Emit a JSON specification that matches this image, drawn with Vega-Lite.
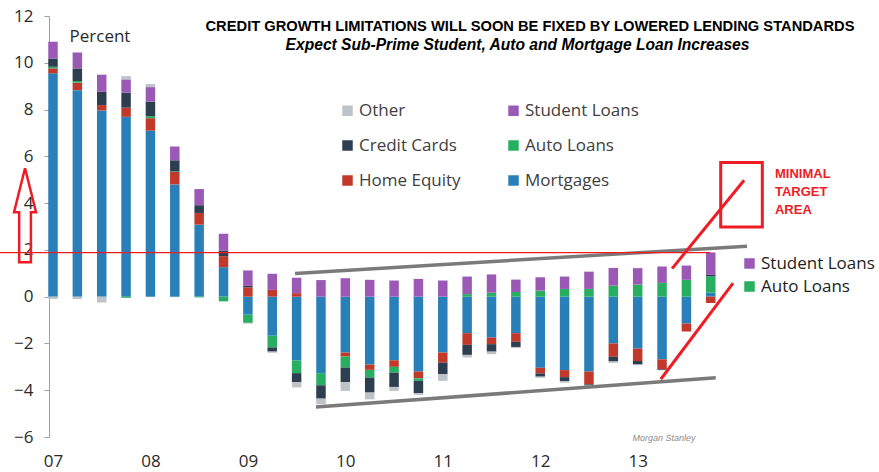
{
  "$schema": "https://vega.github.io/schema/vega-lite/v6.json",
  "width": 668,
  "height": 421,
  "autosize": {"type": "none"},
  "padding": {"left": 49, "top": 16, "right": 162, "bottom": 35},
  "background": "white",
  "title": {
    "text": "CREDIT GROWTH LIMITATIONS WILL SOON BE FIXED BY LOWERED LENDING STANDARDS",
    "anchor": "middle",
    "dx": 147,
    "offset": -27,
    "font": "Liberation Sans",
    "fontSize": 14.7,
    "fontWeight": "bold",
    "color": "#000000"
  },
  "config": {
    "view": {"stroke": null},
    "font": "Open Sans"
  },
  "datasets": {
    "quarters": [
      {"t": 2007.00, "Mortgages": 9.55, "Home Equity": 0.21, "Auto Loans": 0.07, "Credit Cards": 0.35, "Student Loans": 0.72, "Other": -0.10},
      {"t": 2007.25, "Mortgages": 8.83, "Home Equity": 0.32, "Auto Loans": 0.07, "Credit Cards": 0.54, "Student Loans": 0.68, "Other": -0.10},
      {"t": 2007.50, "Mortgages": 7.96, "Home Equity": 0.23, "Auto Loans": 0.00, "Credit Cards": 0.57, "Student Loans": 0.73, "Other": -0.25},
      {"t": 2007.75, "Mortgages": 7.69, "Home Equity": 0.39, "Auto Loans": -0.05, "Credit Cards": 0.64, "Student Loans": 0.57, "Other": 0.14},
      {"t": 2008.00, "Mortgages": 7.10, "Home Equity": 0.53, "Auto Loans": 0.09, "Credit Cards": 0.62, "Student Loans": 0.62, "Other": 0.13},
      {"t": 2008.25, "Mortgages": 4.80, "Home Equity": 0.53, "Auto Loans": 0.03, "Credit Cards": 0.47, "Student Loans": 0.59, "Other": 0},
      {"t": 2008.50, "Mortgages": 3.08, "Home Equity": 0.50, "Auto Loans": -0.03, "Credit Cards": 0.33, "Student Loans": 0.69, "Other": 0},
      {"t": 2008.75, "Mortgages": 1.26, "Home Equity": 0.47, "Auto Loans": -0.20, "Credit Cards": 0.24, "Student Loans": 0.72, "Other": 0},
      {"t": 2009.00, "Mortgages": -0.77, "Home Equity": 0.40, "Auto Loans": -0.35, "Credit Cards": 0.06, "Student Loans": 0.66, "Other": -0.03},
      {"t": 2009.25, "Mortgages": -1.67, "Home Equity": 0.29, "Auto Loans": -0.50, "Credit Cards": -0.18, "Student Loans": 0.69, "Other": -0.05},
      {"t": 2009.50, "Mortgages": -2.73, "Home Equity": 0.15, "Auto Loans": -0.54, "Credit Cards": -0.39, "Student Loans": 0.66, "Other": -0.22},
      {"t": 2009.75, "Mortgages": -3.27, "Home Equity": 0, "Auto Loans": -0.52, "Credit Cards": -0.57, "Student Loans": 0.71, "Other": -0.24},
      {"t": 2010.00, "Mortgages": -2.39, "Home Equity": -0.17, "Auto Loans": -0.47, "Credit Cards": -0.63, "Student Loans": 0.79, "Other": -0.37},
      {"t": 2010.25, "Mortgages": -2.90, "Home Equity": -0.23, "Auto Loans": -0.33, "Credit Cards": -0.64, "Student Loans": 0.72, "Other": -0.29},
      {"t": 2010.50, "Mortgages": -2.72, "Home Equity": -0.28, "Auto Loans": -0.25, "Credit Cards": -0.61, "Student Loans": 0.69, "Other": -0.17},
      {"t": 2010.75, "Mortgages": -3.20, "Home Equity": -0.29, "Auto Loans": -0.11, "Credit Cards": -0.53, "Student Loans": 0.76, "Other": -0.07},
      {"t": 2011.00, "Mortgages": -2.39, "Home Equity": -0.43, "Auto Loans": 0, "Credit Cards": -0.50, "Student Loans": 0.69, "Other": -0.28},
      {"t": 2011.25, "Mortgages": -1.56, "Home Equity": -0.50, "Auto Loans": 0.11, "Credit Cards": -0.43, "Student Loans": 0.75, "Other": -0.11},
      {"t": 2011.50, "Mortgages": -1.75, "Home Equity": -0.28, "Auto Loans": 0.17, "Credit Cards": -0.32, "Student Loans": 0.78, "Other": -0.11},
      {"t": 2011.75, "Mortgages": -1.56, "Home Equity": -0.37, "Auto Loans": 0.20, "Credit Cards": -0.22, "Student Loans": 0.53, "Other": -0.05},
      {"t": 2012.00, "Mortgages": -3.04, "Home Equity": -0.24, "Auto Loans": 0.26, "Credit Cards": -0.14, "Student Loans": 0.57, "Other": -0.05},
      {"t": 2012.25, "Mortgages": -3.14, "Home Equity": -0.30, "Auto Loans": 0.33, "Credit Cards": -0.17, "Student Loans": 0.53, "Other": -0.07},
      {"t": 2012.50, "Mortgages": -3.20, "Home Equity": -0.55, "Auto Loans": 0.33, "Credit Cards": -0.05, "Student Loans": 0.74, "Other": -0.10},
      {"t": 2012.75, "Mortgages": -2.00, "Home Equity": -0.57, "Auto Loans": 0.47, "Credit Cards": -0.20, "Student Loans": 0.76, "Other": -0.06},
      {"t": 2013.00, "Mortgages": -2.22, "Home Equity": -0.53, "Auto Loans": 0.52, "Credit Cards": -0.15, "Student Loans": 0.70, "Other": -0.03},
      {"t": 2013.25, "Mortgages": -2.68, "Home Equity": -0.43, "Auto Loans": 0.59, "Credit Cards": -0.03, "Student Loans": 0.70, "Other": 0},
      {"t": 2013.50, "Mortgages": -1.15, "Home Equity": -0.34, "Auto Loans": 0.72, "Credit Cards": 0, "Student Loans": 0.61, "Other": 0},
      {"t": 2013.75, "Mortgages": 0.18, "Home Equity": -0.27, "Auto Loans": 0.69, "Credit Cards": 0.06, "Student Loans": 0.96, "Other": 0}
    ],
    "series": [
      {"series": "Mortgages", "k": 1},
      {"series": "Home Equity", "k": 2},
      {"series": "Auto Loans", "k": 3},
      {"series": "Credit Cards", "k": 4},
      {"series": "Student Loans", "k": 5},
      {"series": "Other", "k": 6}
    ],
    "highlight": [
      {"series": "Student Loans"},
      {"series": "Auto Loans"}
    ],
    "greylines": [
      {"x": 2009.484, "y": 0.99, "x2": 2014.122, "y2": 2.16},
      {"x": 2009.699, "y": -4.72, "x2": 2013.801, "y2": -3.47}
    ],
    "redlines": [
      {"x": 2006.456, "y": 1.88, "x2": 2013.743, "y2": 1.88, "w": 1.2},
      {"x": 2013.353, "y": 1.2, "x2": 2014.092, "y2": 4.98, "w": 3},
      {"x": 2013.979, "y": 0.58, "x2": 2013.237, "y2": -3.53, "w": 3}
    ],
    "box": [
      {"x": 2013.852, "x2": 2014.279, "y": 5.735, "y2": 2.98}
    ],
    "target": [
      {"x": 2014.409, "y": 5.265, "label": "MINIMAL"},
      {"x": 2014.409, "y": 4.48, "label": "TARGET"},
      {"x": 2014.409, "y": 3.70, "label": "AREA"}
    ],
    "arrow": [
      {"x": 2006.713, "y": 3.48}
    ],
    "notes": [
      {"x": 2013.27, "y": -6.05, "label": "Morgan Stanley"}
    ],
    "unit": [
      {"x": 2007.482, "y": 11.12, "label": "Percent"}
    ],
    "sub": [
      {"x": 2011.767, "y": 10.75, "label": "Expect Sub-Prime Student, Auto and Mortgage Loan Increases"}
    ]
  },
  "layer": [
    {
      "mark": {"type": "rule", "color": "#ababab", "strokeWidth": 1.5},
      "encoding": {"y": {"datum": 0, "type": "quantitative"}}
    },
    {
      "data": {"name": "quarters"},
      "transform": [
        {"fold": ["Mortgages", "Home Equity", "Auto Loans", "Credit Cards", "Student Loans", "Other"], "as": ["series", "v"]},
        {"lookup": "series", "from": {"data": {"name": "series"}, "key": "series", "fields": ["k"]}}
      ],
      "mark": {"type": "bar", "width": 9.5},
      "encoding": {
        "x": {
          "field": "t", "type": "quantitative",
          "scale": {"domain": [2006.959, 2013.814], "nice": false, "zero": false, "padding": 0},
          "axis": {
            "title": null, "values": [2007, 2008, 2009, 2010, 2011, 2012, 2013],
            "labelExpr": "substring(toString(datum.value), 2)",
            "domain": false, "ticks": false, "grid": false, "labelFlush": false,
            "labelFontSize": 17, "labelColor": "#2a2a2a", "labelPadding": 16, "labelFont": "Open Sans"
          }
        },
        "y": {
          "field": "v", "type": "quantitative", "stack": "zero",
          "scale": {"domain": [-6, 12], "nice": false, "padding": 0},
          "axis": {
            "title": null,
            "values": [-6, -4, -2, 0, 2, 4, 6, 8, 10, 12],
            "grid": false, "domainColor": "#a0a0a0", "tickColor": "#a0a0a0", "tickSize": 5,
            "labelFontSize": 17, "labelColor": "#2a2a2a", "labelPadding": 11, "labelFont": "Open Sans"
          }
        },
        "color": {
          "field": "series", "type": "nominal",
          "scale": {
            "domain": ["Other", "Credit Cards", "Home Equity", "Student Loans", "Auto Loans", "Mortgages"],
            "range": ["#bdc3c7", "#2c3e50", "#c0392b", "#9b59b6", "#27ae60", "#2980b9"]
          },
          "legend": {
            "title": null, "orient": "none", "legendX": 290, "legendY": 86, "columns": 2,
            "symbolType": "square", "symbolSize": 110, "symbolStrokeWidth": 0,
            "labelFontSize": 17, "labelFont": "Open Sans", "labelColor": "#404040", "labelOffset": 3,
            "rowPadding": 17, "columnPadding": 44, "padding": 0
          }
        },
        "order": {"field": "k", "type": "quantitative"}
      }
    },
    {
      "data": {"name": "highlight"},
      "mark": {"type": "point", "shape": "square", "filled": true, "opacity": 0},
      "encoding": {
        "fill": {
          "field": "series", "type": "nominal",
          "scale": {"domain": ["Student Loans", "Auto Loans"], "range": ["#9b59b6", "#27ae60"]},
          "legend": {
            "title": null, "orient": "none", "legendX": 692, "legendY": 239,
            "symbolType": "square", "symbolSize": 110, "symbolOpacity": 1, "symbolStrokeWidth": 0,
            "labelFontSize": 17, "labelFont": "Open Sans", "labelColor": "#222222", "labelOffset": 3,
            "rowPadding": 5, "padding": 0
          }
        }
      }
    },
    {
      "data": {"name": "greylines"},
      "mark": {"type": "rule", "color": "#7a7a7a", "strokeWidth": 3.5},
      "encoding": {
        "x": {"field": "x", "type": "quantitative", "title": null},
        "y": {"field": "y", "type": "quantitative", "title": null},
        "x2": {"field": "x2"},
        "y2": {"field": "y2"}
      }
    },
    {
      "data": {"name": "redlines"},
      "mark": {"type": "rule", "color": "#ee1c25"},
      "encoding": {
        "x": {"field": "x", "type": "quantitative", "title": null},
        "y": {"field": "y", "type": "quantitative", "title": null},
        "x2": {"field": "x2"},
        "y2": {"field": "y2"},
        "strokeWidth": {"field": "w", "type": "quantitative", "scale": null, "legend": null}
      }
    },
    {
      "data": {"name": "box"},
      "mark": {"type": "rect", "filled": false, "stroke": "#ee1c25", "strokeWidth": 3},
      "encoding": {
        "x": {"field": "x", "type": "quantitative", "title": null},
        "y": {"field": "y", "type": "quantitative", "title": null},
        "x2": {"field": "x2"},
        "y2": {"field": "y2"}
      }
    },
    {
      "data": {"name": "target"},
      "mark": {"type": "text", "align": "left", "baseline": "middle", "font": "Liberation Sans", "fontSize": 13, "fontWeight": "bold", "color": "#ee1c25"},
      "encoding": {
        "x": {"field": "x", "type": "quantitative", "title": null},
        "y": {"field": "y", "type": "quantitative", "title": null},
        "text": {"field": "label"}
      }
    },
    {
      "data": {"name": "arrow"},
      "mark": {
        "type": "point", "filled": false, "stroke": "#ee1c25", "strokeWidth": 2.5, "opacity": 1,
        "shape": "M0,-1 L0.234,-0.064 L0.125,-0.064 L0.125,1 L-0.125,1 L-0.125,-0.064 L-0.234,-0.064 Z",
        "size": 8836
      },
      "encoding": {
        "x": {"field": "x", "type": "quantitative", "title": null},
        "y": {"field": "y", "type": "quantitative", "title": null}
      }
    },
    {
      "data": {"name": "notes"},
      "mark": {"type": "text", "align": "center", "baseline": "middle", "font": "Liberation Sans", "fontSize": 9, "fontStyle": "italic", "color": "#8c8c8c"},
      "encoding": {
        "x": {"field": "x", "type": "quantitative", "title": null},
        "y": {"field": "y", "type": "quantitative", "title": null},
        "text": {"field": "label"}
      }
    },
    {
      "data": {"name": "unit"},
      "mark": {"type": "text", "align": "center", "baseline": "middle", "font": "Open Sans", "fontSize": 17, "color": "#2a2a2a"},
      "encoding": {
        "x": {"field": "x", "type": "quantitative", "title": null},
        "y": {"field": "y", "type": "quantitative", "title": null},
        "text": {"field": "label"}
      }
    },
    {
      "data": {"name": "sub"},
      "mark": {"type": "text", "align": "center", "baseline": "middle", "font": "Liberation Sans", "fontSize": 15.6, "fontStyle": "italic", "fontWeight": "bold", "color": "#000000"},
      "encoding": {
        "x": {"field": "x", "type": "quantitative", "title": null},
        "y": {"field": "y", "type": "quantitative", "title": null},
        "text": {"field": "label"}
      }
    }
  ]
}
